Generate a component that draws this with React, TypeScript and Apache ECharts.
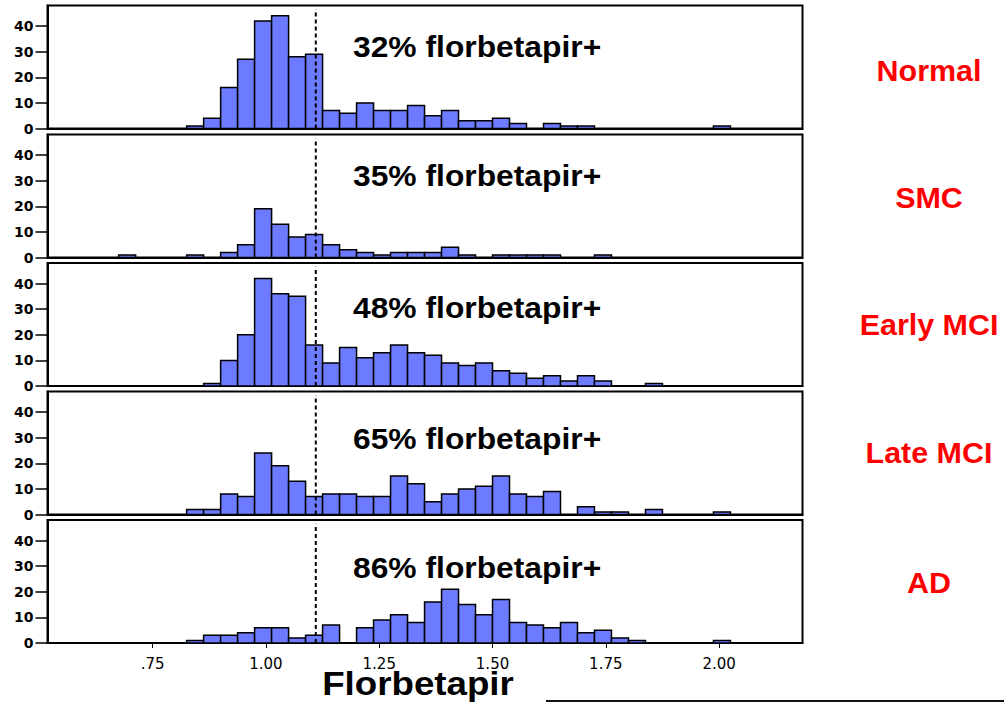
import React, { useEffect, useRef } from "react";
import * as echarts from "echarts";

// Histogram bins: each bin is BIN_WIDTH wide, the first one starts at BIN_START
const BIN_START = 0.675;
const BIN_WIDTH = 0.0375;
const CUTOFF = 1.11;

const groups = ["Normal", "SMC", "Early MCI", "Late MCI", "AD"];
const positivity = ["32% florbetapir+", "35% florbetapir+", "48% florbetapir+", "65% florbetapir+", "86% florbetapir+"];

// counts per bin, from 0.675 up to 2.0625
const normalCounts = [0, 0, 0, 0, 1, 4, 16, 27, 42, 44, 28, 29, 7, 6, 10, 7, 7, 9, 5, 7, 3, 3, 4, 2, 0, 2, 1, 1, 0, 0, 0, 0, 0, 0, 0, 1];
const smcCounts = [1, 0, 0, 0, 1, 0, 2, 5, 19, 13, 8, 9, 5, 3, 2, 1, 2, 2, 2, 4, 1, 0, 1, 1, 1, 1, 0, 0, 1, 0, 0, 0, 0, 0, 0, 0];
const earlyMciCounts = [0, 0, 0, 0, 0, 1, 10, 20, 42, 36, 35, 16, 9, 15, 11, 13, 16, 13, 12, 9, 8, 9, 6, 5, 3, 4, 2, 4, 2, 0, 0, 1, 0, 0, 0, 0];
const lateMciCounts = [0, 0, 0, 0, 2, 2, 8, 7, 24, 19, 13, 7, 8, 8, 7, 7, 15, 12, 5, 8, 10, 11, 15, 8, 7, 9, 0, 3, 1, 1, 0, 2, 0, 0, 0, 1];
const adCounts = [0, 0, 0, 0, 1, 3, 3, 4, 6, 6, 2, 3, 7, 0, 6, 9, 11, 8, 16, 21, 15, 11, 17, 8, 7, 6, 8, 4, 5, 2, 1, 0, 0, 0, 0, 1];

const allCounts = [normalCounts, smcCounts, earlyMciCounts, lateMciCounts, adCounts];

const xTicks = [0.75, 1.0, 1.25, 1.5, 1.75, 2.0];
const yTicks = [0, 10, 20, 30, 40];

const X_MIN = 0.518;
const X_MAX = 2.184;
const Y_MAX = 48;

const panelTops = [5.5, 134.5, 263, 391.5, 520];
const PANEL_HEIGHT = 123;
const PANEL_LEFT = 47.5;
const PANEL_RIGHT = 201.5;

const annotationY = [46.5, 176, 307.5, 438.5, 568];
const groupLabelY = [70.5, 198, 325, 453, 583];

const BAR_FILL = "#6C7BFF";
const TEXT_FONT = "Liberation Sans";
const TICK_FONT = "DejaVu Sans";

export default function App() {
  const ref = useRef<HTMLDivElement>(null);

  useEffect(() => {
    if (!ref.current) return;
    const chart = echarts.init(ref.current, undefined, { renderer: "svg" });

    const grids = panelTops.map((top) => ({
      left: PANEL_LEFT,
      right: PANEL_RIGHT,
      top,
      height: PANEL_HEIGHT,
      show: true,
      borderColor: "#000",
      borderWidth: 2,
      backgroundColor: "#fff",
      containLabel: false,
      outerBoundsMode: "none",
    }));

    const xAxes = panelTops.map((_, i) => {
      const last = i === panelTops.length - 1;
      return {
        type: "value",
        gridIndex: i,
        min: X_MIN,
        max: X_MAX,
        splitLine: { show: false },
        axisLine: { show: true, lineStyle: { color: "#000", width: 2 } },
        axisTick: {
          show: last,
          customValues: xTicks,
          length: 5,
          lineStyle: { color: "#000", width: 1 },
        },
        axisLabel: {
          show: last,
          customValues: xTicks,
          margin: 13,
          color: "#000",
          fontFamily: TICK_FONT,
          fontSize: 15,
          formatter: (v: number) => (v < 1 ? "." + Math.round(v * 100) : v.toFixed(2)),
        },
      };
    });

    const yAxes = panelTops.map((_, i) => ({
      type: "value",
      gridIndex: i,
      min: 0,
      max: Y_MAX,
      splitLine: { show: false },
      axisLine: { show: true, lineStyle: { color: "#000", width: 2 } },
      axisTick: {
        show: true,
        customValues: yTicks,
        length: 12,
        lineStyle: { color: "#000", width: 1.5 },
      },
      axisLabel: {
        show: true,
        customValues: yTicks,
        margin: 14,
        color: "#000",
        fontFamily: TICK_FONT,
        fontWeight: "bold",
        fontSize: 14,
      },
    }));

    const barSeries = allCounts.map((counts, i) => ({
      type: "custom",
      xAxisIndex: i,
      yAxisIndex: i,
      z: 2,
      data: counts
        .map((c, k) => [BIN_START + k * BIN_WIDTH, BIN_START + (k + 1) * BIN_WIDTH, c])
        .filter((d) => d[2] > 0),
      encode: { x: [0, 1], y: 2 },
      renderItem: (_params: any, api: any) => {
        const x0 = api.value(0);
        const x1 = api.value(1);
        const v = api.value(2);
        const topLeft = api.coord([x0, v]);
        const bottomRight = api.coord([x1, 0]);
        return {
          type: "rect",
          shape: {
            x: topLeft[0],
            y: topLeft[1],
            width: bottomRight[0] - topLeft[0],
            height: bottomRight[1] - topLeft[1],
          },
          style: { fill: BAR_FILL, stroke: "#000", lineWidth: 1.5 },
        };
      },
    }));

    const cutoffSeries = panelTops.map((_, i) => ({
      type: "line",
      xAxisIndex: i,
      yAxisIndex: i,
      z: 5,
      showSymbol: false,
      symbol: "none",
      data: [
        [CUTOFF, 0],
        [CUTOFF, 46.5],
      ],
      lineStyle: { color: "#000", width: 2, type: [4, 3] },
    }));

    const texts: any[] = [];
    positivity.forEach((t, i) => {
      texts.push({
        type: "text",
        x: 353,
        y: annotationY[i],
        scaleX: 1.06,
        z: 10,
        style: {
          text: t,
          font: `bold 30px "${TEXT_FONT}"`,
          fill: "#000",
          align: "left",
          verticalAlign: "middle",
          textAlign: "left",
          textVerticalAlign: "middle",
        },
      });
    });
    groups.forEach((g, i) => {
      texts.push({
        type: "text",
        x: 929,
        y: groupLabelY[i],
        scaleX: 1.05,
        z: 10,
        style: {
          text: g,
          font: `bold 29px "${TEXT_FONT}"`,
          fill: "#FF0000",
          align: "center",
          verticalAlign: "middle",
          textAlign: "center",
          textVerticalAlign: "middle",
        },
      });
    });
    texts.push({
      type: "text",
      x: 418,
      y: 683,
      scaleX: 1.08,
      z: 10,
      style: {
        text: "Florbetapir",
        font: `bold 34px "${TEXT_FONT}"`,
        fill: "#000",
        align: "center",
        verticalAlign: "middle",
        textAlign: "center",
        textVerticalAlign: "middle",
      },
    });
    texts.push({
      type: "line",
      z: 10,
      shape: { x1: 546, y1: 701, x2: 1004, y2: 701 },
      style: { stroke: "#111", lineWidth: 2 },
    });

    chart.setOption({
      animation: false,
      backgroundColor: "#fff",
      grid: grids,
      xAxis: xAxes,
      yAxis: yAxes,
      series: [...barSeries, ...cutoffSeries],
      graphic: texts,
    });

    return () => chart.dispose();
  }, []);

  return (
    <div
      ref={ref}
      style={{ position: "absolute", left: 0, top: 0, width: 1004, height: 703 }}
    />
  );
}
